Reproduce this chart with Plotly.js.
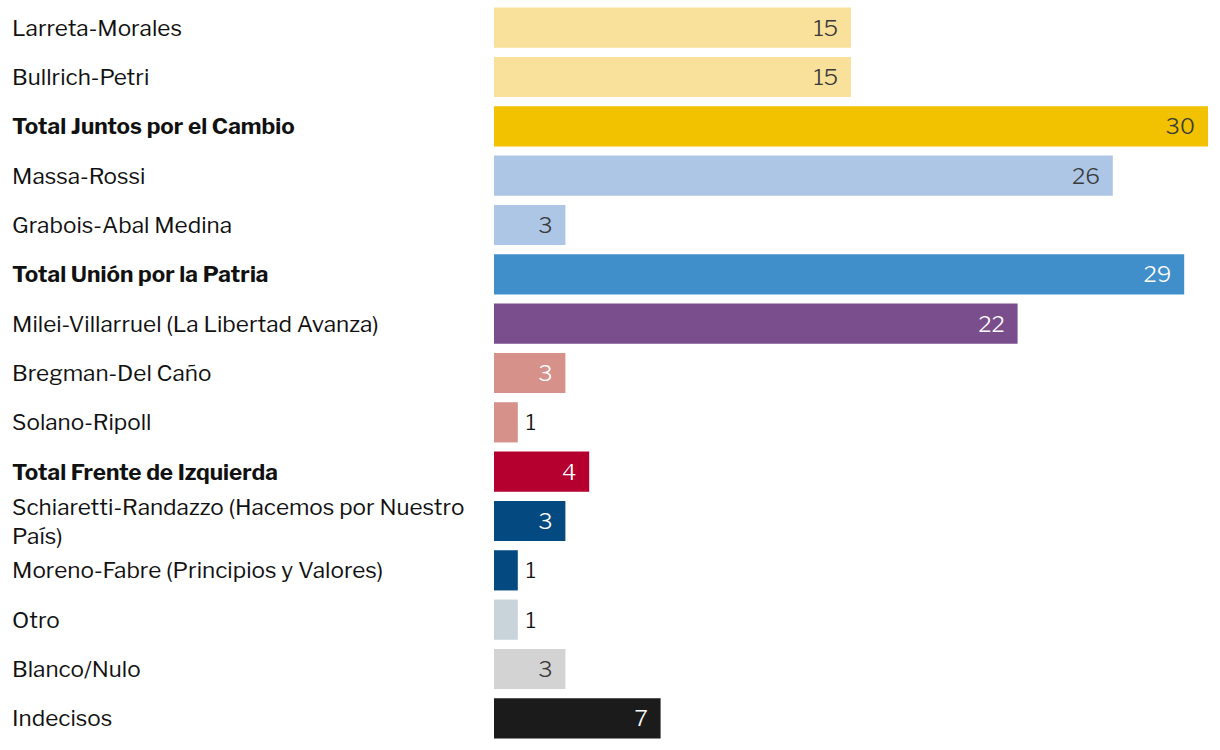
<!DOCTYPE html>
<html>
<head>
<meta charset="utf-8">
<script src="https://cdn.plot.ly/plotly-3.0.1.min.js"></script>
<style>
  html, body { margin: 0; padding: 0; background: #fff; }
  #chart { width: 1220px; height: 750px; }
</style>
</head>
<body>
<div id="chart"></div>
<script>
// Categories (top to bottom)
const categories = [
  "Larreta-Morales",
  "Bullrich-Petri",
  "Total Juntos por el Cambio",
  "Massa-Rossi",
  "Grabois-Abal Medina",
  "Total Unión por la Patria",
  "Milei-Villarruel (La Libertad Avanza)",
  "Bregman-Del Caño",
  "Solano-Ripoll",
  "Total Frente de Izquierda",
  "Schiaretti-Randazzo (Hacemos por Nuestro País)",
  "Moreno-Fabre (Principios y Valores)",
  "Otro",
  "Blanco/Nulo",
  "Indecisos"
];
// Display labels (line breaks / bold for totals)
const tickLabels = [
  "Larreta-Morales",
  "Bullrich-Petri",
  "<b>Total Juntos por el Cambio</b>",
  "Massa-Rossi",
  "Grabois-Abal Medina",
  "<b>Total Unión por la Patria</b>",
  "Milei-Villarruel (La Libertad Avanza)",
  "Bregman-Del Caño",
  "Solano-Ripoll",
  "<b>Total Frente de Izquierda</b>",
  "Schiaretti-Randazzo (Hacemos por Nuestro<br>País)",
  "Moreno-Fabre (Principios y Valores)",
  "Otro",
  "Blanco/Nulo",
  "Indecisos"
];
// Values (%)
const values = [15, 15, 30, 26, 3, 29, 22, 3, 1, 4, 3, 1, 1, 3, 7];

// Styles
const barColors = [
  "#f9e09b", "#f9e09b", "#f2c200",
  "#adc6e6", "#adc6e6", "#408fca",
  "#7a4e8c",
  "#d6918a", "#d6918a", "#b5002f",
  "#044a80", "#044a80",
  "#c8d3da", "#d3d3d3", "#1b1b1b"
];
const textColors = [
  "#3a3a3a", "#3a3a3a", "#3a3a3a",
  "#3a3a3a", "#3a3a3a", "#ffffff",
  "#ffffff",
  "#ffffff", "#111111", "#ffffff",
  "#ffffff", "#111111",
  "#111111", "#3a3a3a", "#ffffff"
];

const FONT = "Libre Franklin";
const positions = values.map(v => v <= 1 ? "outside" : "inside");
const texts = values.map(v => v <= 1 ? "\u00a0" + v : v + "\u00a0\u00a0");

const trace = {
  type: "bar",
  orientation: "h",
  y: categories,
  x: values,
  marker: { color: barColors },
  text: texts,
  textposition: positions,
  insidetextanchor: "end",
  textangle: 0,
  textfont: { family: FONT, size: 22.5, color: textColors, weight: 300 },
  insidetextfont: { family: FONT, size: 22.5, color: textColors, weight: 300 },
  outsidetextfont: { family: FONT, size: 22.5, color: textColors, weight: 300 },
  constraintext: "none",
  cliponaxis: false,
  hoverinfo: "none"
};

const annotations = categories.map((c, i) => ({
  xref: "paper", yref: "y",
  x: (10 - 494) / 714, y: c,
  xanchor: "left", yanchor: "middle",
  align: "left",
  text: tickLabels[i],
  showarrow: false,
  font: { family: FONT, size: 22.5, color: "#111111" }
}));

const layout = {
  width: 1220, height: 750,
  margin: { l: 494, r: 12, t: 3, b: 7, pad: 0 },
  paper_bgcolor: "#ffffff",
  plot_bgcolor: "#ffffff",
  showlegend: false,
  bargap: 0.185,
  xaxis: { range: [0, 30], visible: false, fixedrange: true },
  yaxis: {
    type: "category",
    categoryorder: "array",
    categoryarray: categories,
    autorange: "reversed",
    showticklabels: false,
    showgrid: false, zeroline: false, showline: false, ticks: "",
    fixedrange: true
  },
  annotations: annotations,
  uniformtext: { mode: false }
};

Plotly.newPlot("chart", [trace], layout, { displayModeBar: false, staticPlot: true });
</script>
</body>
</html>
